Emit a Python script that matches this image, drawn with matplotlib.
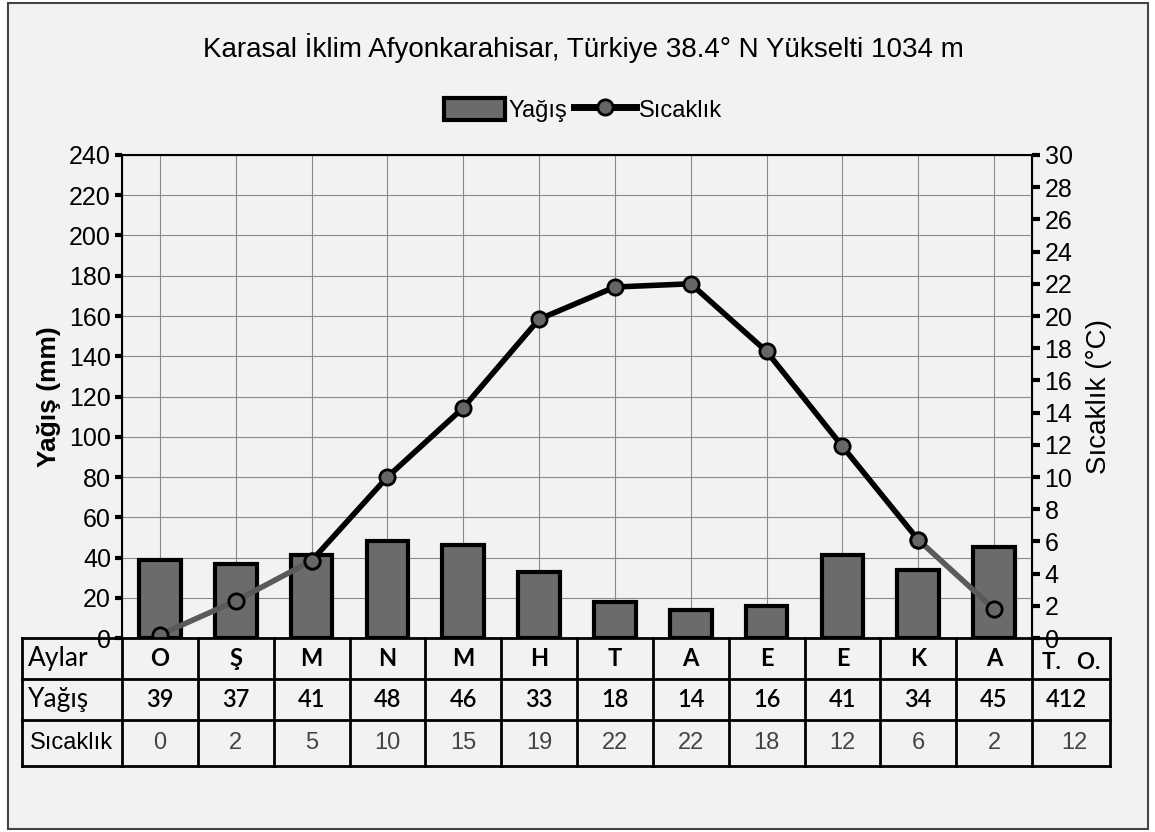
import numpy as np
import matplotlib.pyplot as plt
from matplotlib.patches import Patch, Rectangle
from matplotlib.lines import Line2D

# data
months = ['O', 'Ş', 'M', 'N', 'M', 'H', 'T', 'A', 'E', 'E', 'K', 'A']
precip = [39, 37, 41, 48, 46, 33, 18, 14, 16, 41, 34, 45]
temp_plot = [0.2, 2.3, 4.8, 10, 14.3, 19.8, 21.8, 22, 17.8, 11.9, 6.1, 1.8]
temp_table = [0, 2, 5, 10, 15, 19, 22, 22, 18, 12, 6, 2]
precip_total = 412
temp_mean = 12
left_ticks = list(range(0, 241, 20))
right_ticks = list(range(0, 31, 2))

NARROW = ['Liberation Sans Narrow', 'Liberation Sans', 'DejaVu Sans']
ARIAL = ['Liberation Sans', 'DejaVu Sans']
CAL = ['Lato', 'Open Sans', 'DejaVu Sans']

W, H = 1155, 832
fig = plt.figure(figsize=(W / 100, H / 100), dpi=100)
fig.patch.set_facecolor('white')

# outer frame
fig.patches.append(Rectangle((8 / W, 3 / H), 1140 / W, 826 / H, transform=fig.transFigure,
                             facecolor='#f2f2f2', edgecolor='#444444', lw=1.5, zorder=-10))

# main plot
ax = fig.add_axes([122 / W, 1 - 638 / H, 910 / W, 483 / H])
ax.set_facecolor('#f2f2f2')
x = np.arange(len(months))
ax.bar(x, precip, width=0.55, color='#6b6b6b', edgecolor='black', linewidth=3, zorder=3)
ax.set_xlim(-0.5, 11.5)
ax.set_ylim(0, 240)
ax.set_xticks(x)
ax.set_xticklabels([])
ax.tick_params(axis='x', length=0)
ax.set_yticks(left_ticks)
ax.set_yticklabels([str(v) for v in left_ticks], fontfamily=NARROW, fontsize=18)
ax.tick_params(axis='y', length=5, width=3, pad=3)
ax.grid(True, color='#8a8a8a', lw=0.8, zorder=0)
for s in ['left', 'right', 'top']:
    ax.spines[s].set_linewidth(1.5)
ax.spines['bottom'].set_visible(False)
ax.set_ylabel('Yağış (mm)', fontfamily=ARIAL, fontsize=19, fontweight='bold', labelpad=6)

ax2 = ax.twinx()
ax2.set_ylim(0, 30)
ax2.set_yticks(right_ticks)
ax2.set_yticklabels([str(v) for v in right_ticks], fontfamily=NARROW, fontsize=18)
ax2.tick_params(axis='y', length=6, width=3, pad=3)
ax2.spines['bottom'].set_visible(False)
ax2.set_ylabel('Sıcaklık (°C)', fontfamily=ARIAL, fontsize=20,
               rotation=90, labelpad=10)

mk = dict(marker='o', markersize=11, markerfacecolor='#666666', markeredgecolor='black',
          markeredgewidth=2)
ax2.plot(x[2:11], temp_plot[2:11], color='black', lw=4, zorder=4, **mk)
ax2.plot(x[:3], temp_plot[:3], color='#5a5a5a', lw=4, zorder=5, **mk)
ax2.plot(x[10:], temp_plot[10:], color='#5a5a5a', lw=4, zorder=5, **mk)

# title and legend
fig.text(0.505, 1 - 48 / H, 'Karasal İklim Afyonkarahisar, Türkiye 38.4° N Yükselti 1034 m',
         ha='center', va='center', fontsize=20, fontfamily=NARROW)
handles = [Patch(facecolor='#6b6b6b', edgecolor='black', linewidth=3),
           Line2D([], [], color='black', lw=5, **mk)]
fig.legend(handles, ['Yağış', 'Sıcaklık'], loc='center', bbox_to_anchor=(583 / W, 1 - 110 / H),
           ncol=2, frameon=False, handlelength=2.6, handleheight=1.1, handletextpad=0.15,
           columnspacing=0.3, prop={'family': NARROW, 'size': 17})

# table
tax = fig.add_axes([0, 0, 1, 1], facecolor='none')
tax.set_xlim(0, W)
tax.set_ylim(H, 0)
tax.axis('off')
col_w = 910 / 12
edges = [22, 122] + [122 + col_w * (i + 1) for i in range(12)] + [1110]
rows = [638, 679, 720, 766]
for yv in rows:
    tax.plot([edges[0], edges[-1]], [yv, yv], color='black', lw=2)
for xv in edges:
    tax.plot([xv, xv], [rows[0], rows[-1]], color='black', lw=2)

def cx(i):
    return (edges[i] + edges[i + 1]) / 2

def cy(r):
    return (rows[r] + rows[r + 1]) / 2

tax.text(28, cy(0), 'Aylar', ha='left', va='center', fontsize=19, fontfamily=CAL)
tax.text(28, cy(1), 'Yağış', ha='left', va='center', fontsize=19, fontfamily=CAL)
tax.text(30, cy(2), 'Sıcaklık', ha='left', va='center', fontsize=17, fontfamily=ARIAL)
for i, m in enumerate(months):
    tax.text(cx(i + 1), cy(0), m, ha='center', va='center', fontsize=17, fontweight='bold',
             fontfamily=CAL)
    tax.text(cx(i + 1), cy(1), str(precip[i]), ha='center', va='center', fontsize=17,
             fontfamily=CAL, fontweight='semibold')
    tax.text(cx(i + 1), cy(2), str(temp_table[i]), ha='center', va='center', fontsize=17,
             fontfamily=ARIAL, color='#444444')
tax.text(cx(13), cy(0) + 4, 'T.   O.', ha='center', va='center', fontsize=16, fontweight='bold',
         fontfamily=CAL)
tax.text(cx(13) - 5, cy(1), str(precip_total), ha='center', va='center', fontsize=17,
         fontfamily=CAL, fontweight='semibold')
tax.text(cx(13) + 3, cy(2), str(temp_mean), ha='center', va='center', fontsize=17,
         fontfamily=ARIAL, color='#444444')

fig.savefig('out.png', dpi=100)
